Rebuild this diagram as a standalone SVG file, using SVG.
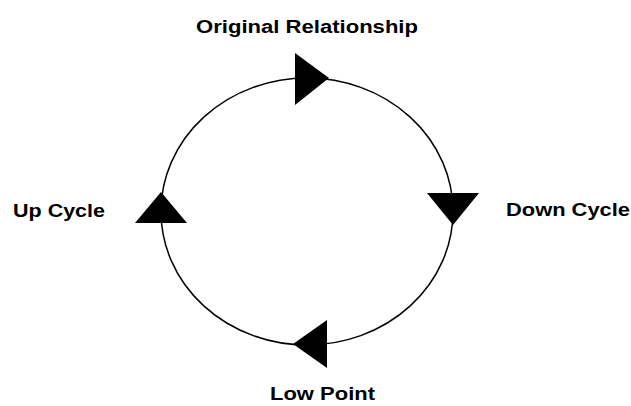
<svg xmlns="http://www.w3.org/2000/svg" width="631" height="406" viewBox="0 0 631 406">
<style>
text{font-family:"Liberation Sans",Arial,sans-serif;font-weight:bold;font-size:18px;fill:#000}
.ring{fill:none;stroke:#000;stroke-width:1.5}
.arrow{fill:#000}
</style>
<rect width="631" height="406" fill="#fff"/>
<g id="connectors">
<ellipse class="ring" cx="307" cy="211.5" rx="146" ry="133.5"/>
<polygon class="arrow" points="295,53 295,105 329,78"/>
<polygon class="arrow" points="427,193 479,193 453,225"/>
<polygon class="arrow" points="327,320 327,368 293,344"/>
<polygon class="arrow" points="135,223 187,223 161,192"/>
</g>
<g id="original"><text x="196" y="33" textLength="222" lengthAdjust="spacingAndGlyphs">Original Relationship</text></g>
<g id="down"><text x="506" y="216" textLength="124" lengthAdjust="spacingAndGlyphs">Down Cycle</text></g>
<g id="low"><text x="270" y="400" textLength="105" lengthAdjust="spacingAndGlyphs">Low Point</text></g>
<g id="up"><text x="13" y="217" textLength="92" lengthAdjust="spacingAndGlyphs">Up Cycle</text></g>
</svg>
